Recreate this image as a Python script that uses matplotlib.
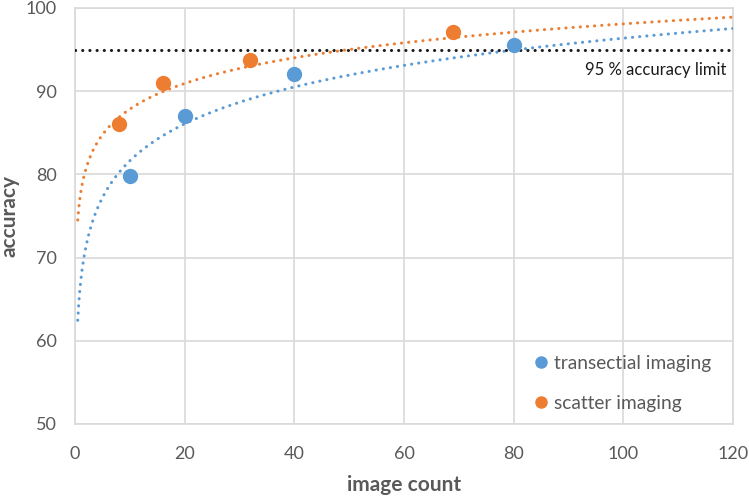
import numpy as np
import matplotlib
matplotlib.use("Agg")
import matplotlib.pyplot as plt

# data
trans_x = [10, 20, 40, 80]
trans_y = [79.8, 87.0, 92.1, 95.6]
scatter_x = [8, 16, 32, 69]
scatter_y = [86.1, 91.0, 93.8, 97.1]
# logarithmic trendlines y = a*ln(x) + b
trans_trend = (6.4, 66.9)
scatter_trend = (4.45, 77.6)
trend_range = (0.5, 120)
limit_value = 95
limit_label = "95 % accuracy limit"
series_names = ["transectial imaging", "scatter imaging"]
x_ticks = [0, 20, 40, 60, 80, 100, 120]
y_ticks = [50, 60, 70, 80, 90, 100]

BLUE = "#5b9bd5"
ORANGE = "#ed7d31"
GRAY = "#595959"
GRID = "#d9d9d9"

plt.rcParams['font.family'] = ['Lato', 'DejaVu Sans']

fig = plt.figure(figsize=(7.49, 4.97), dpi=100)
ax = fig.add_axes([75/749, 1-424/497, (733-75)/749, (424-8)/497])

xs = np.linspace(trend_range[0], trend_range[1], 600)
dot = (0, (0.05, 2.3))
ax.plot(xs, trans_trend[0]*np.log(xs) + trans_trend[1], color=BLUE, lw=2.2,
        linestyle=dot, dash_capstyle='round', zorder=3)
ax.plot(xs, scatter_trend[0]*np.log(xs) + scatter_trend[1], color=ORANGE, lw=2.2,
        linestyle=dot, dash_capstyle='round', zorder=3)
ax.plot([0, 120], [limit_value, limit_value], color="#1a1a1a", lw=2.2,
        linestyle=dot, dash_capstyle='round', zorder=3)

ax.plot(trans_x, trans_y, 'o', color=BLUE, ms=10, label=series_names[0], zorder=4)
ax.plot(scatter_x, scatter_y, 'o', color=ORANGE, ms=10, label=series_names[1], zorder=4)

ax.text(118.8, 92.6, limit_label, ha='right', va='center', fontsize=12, color="#1a1a1a")

ax.set_xlim(0, 120)
ax.set_ylim(50, 100)
ax.set_xticks(x_ticks)
ax.set_yticks(y_ticks)
ax.grid(True, color=GRID, lw=1.2)
ax.set_axisbelow(True)
for s in ax.spines.values():
    s.set_color(GRID)
    s.set_linewidth(1.2)
ax.tick_params(length=0, colors=GRAY, labelsize=13)
ax.tick_params(axis='x', pad=16)
ax.tick_params(axis='y', pad=13)

ax.set_xlabel("image count", fontsize=15, fontweight='bold', color=GRAY)
ax.set_ylabel("accuracy", fontsize=15, fontweight='bold', color=GRAY)
ax.xaxis.set_label_coords((404 - 75) / 658, -(475 - 424) / 416)
ax.yaxis.set_label_coords(-(75 - 20) / 658, 0.5)

leg = ax.legend(loc='lower right', bbox_to_anchor=(0.993, -0.012), frameon=False,
                fontsize=13.8, labelcolor=GRAY, handletextpad=0.05, handlelength=1.2,
                labelspacing=1.2, markerscale=0.8)

fig.savefig("out.png", dpi=100)
